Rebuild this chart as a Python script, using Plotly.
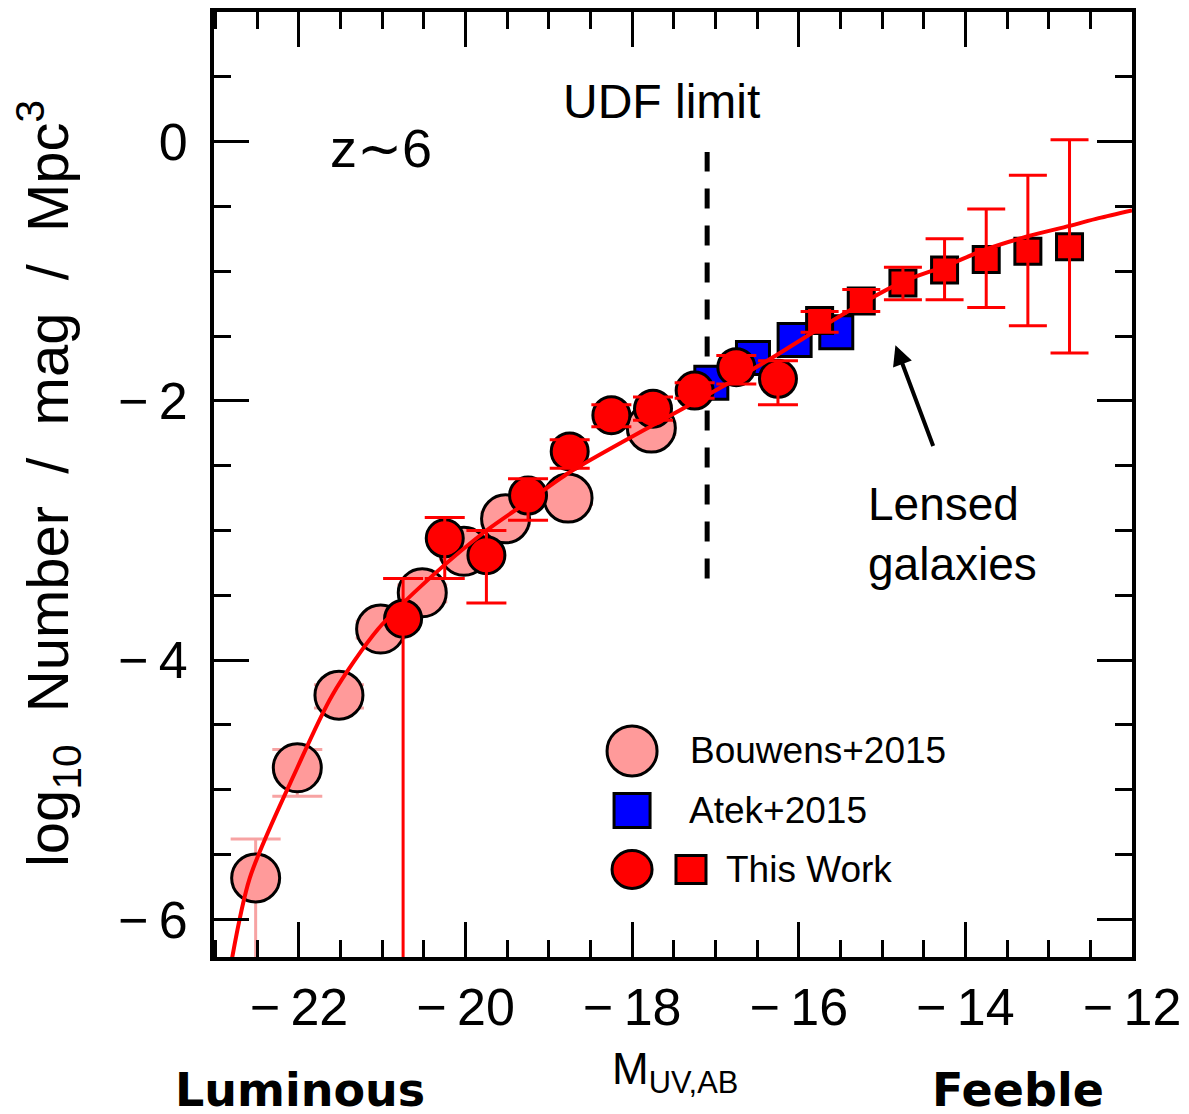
import plotly.graph_objects as go

# ---- UV luminosity function at z~6 -------------------------------------
# Bouwens+2015 blank-field points (M_UV, log10 phi, +err, -err)
bouwens_m = [-22.52, -22.02, -21.52, -21.02, -20.52, -20.02, -19.52, -18.77, -17.77]
bouwens_phi = [-5.68, -4.83, -4.27, -3.76, -3.48, -3.16, -2.91, -2.75, -2.21]
bouwens_up = [0.30, 0.14, 0.08, 0.06, 0.06, 0.05, 0.05, 0.05, 0.05]
bouwens_dn = [1.50, 0.22, 0.10, 0.07, 0.07, 0.06, 0.05, 0.05, 0.05]

# Atek+2015 lensed points
atek_m = [-17.05, -16.55, -16.05, -15.55]
atek_phi = [-1.86, -1.67, -1.53, -1.47]

# This work: blank-field circles
work_m = [-20.75, -20.25, -19.75, -19.25, -18.75, -18.25, -17.75, -17.25, -16.75, -16.25]
work_phi = [-3.68, -3.06, -3.19, -2.73, -2.39, -2.11, -2.06, -1.92, -1.74, -1.83]
work_up = [0.31, 0.16, 0.19, 0.13, 0.09, 0.08, 0.09, 0.06, 0.09, 0.14]
work_dn = [3.00, 0.31, 0.37, 0.19, 0.13, 0.09, 0.09, 0.06, 0.13, 0.20]

# This work: lensed squares
lens_m = [-15.75, -15.25, -14.75, -14.25, -13.75, -13.25, -12.75]
lens_phi = [-1.38, -1.23, -1.09, -0.99, -0.91, -0.845, -0.81]
lens_up = [0.07, 0.09, 0.12, 0.24, 0.39, 0.585, 0.825]
lens_dn = [0.09, 0.08, 0.13, 0.23, 0.37, 0.575, 0.82]

# Best-fit luminosity function, sampled along the curve
fit_m = [-22.85, -22.59, -22.02, -21.6, -21.05, -20.4, -19.75, -19.26, -18.75,
         -17.76, -17.0, -16.3, -15.75, -15.25, -14.75, -14.24, -13.75, -13.25,
         -12.75, -12.4, -12.0]
fit_phi = [-6.47, -5.68, -4.83, -4.27, -3.76, -3.35, -3.0, -2.78, -2.55,
           -2.19, -1.92, -1.66, -1.44, -1.25, -1.08, -0.96, -0.83, -0.73,
           -0.65, -0.59, -0.53]

# HUDF depth limit
udf_limit_m = -17.1
udf_line_phi = [-3.37, -0.08]

x_ticks = [-22, -20, -18, -16, -14, -12]
y_ticks = [-6, -4, -2, 0]

PINK = "#FF9A9A"
PINK_ERR = "#F7A3A3"
RED = "#FF0000"
BLUE = "#0000FF"
FONT = "Liberation Sans"


def minus_label(v):
    return "0" if v == 0 else "\u2212\u2009" + str(abs(v))


def error_trace(xs, ys, up, dn, col, w):
    return go.Scatter(
        x=xs, y=ys, mode="markers", showlegend=False,
        marker=dict(size=1, opacity=0),
        error_y=dict(type="data", symmetric=False, array=up, arrayminus=dn,
                     color=col, thickness=3, width=w),
    )


fig = go.Figure()

# Bouwens+2015: error bars sit beneath the symbols
fig.add_trace(error_trace(bouwens_m, bouwens_phi, bouwens_up, bouwens_dn, PINK_ERR, 25))
fig.add_trace(go.Scatter(
    x=bouwens_m, y=bouwens_phi, mode="markers", showlegend=False,
    marker=dict(symbol="circle", size=48, color=PINK, line=dict(color="black", width=3)),
))
fig.add_trace(go.Scatter(
    x=atek_m, y=atek_phi, mode="markers", showlegend=False,
    marker=dict(symbol="square", size=33, color=BLUE, line=dict(color="black", width=3)),
))
fig.add_trace(go.Scatter(
    x=work_m, y=work_phi, mode="markers", showlegend=False,
    marker=dict(symbol="circle", size=37, color=RED, line=dict(color="black", width=3)),
))
fig.add_trace(go.Scatter(
    x=lens_m, y=lens_phi, mode="markers", showlegend=False,
    marker=dict(symbol="square", size=26, color=RED, line=dict(color="black", width=3)),
))

# this work: error bars drawn above the symbols
fig.add_trace(error_trace(work_m, work_phi, work_up, work_dn, RED, 20))
fig.add_trace(error_trace(lens_m, lens_phi, lens_up, lens_dn, RED, 19))

# best-fit curve
fig.add_trace(go.Scatter(
    x=fit_m, y=fit_phi, mode="lines", showlegend=False,
    line=dict(color=RED, width=4, shape="spline", smoothing=0.8),
))

# UDF limit
fig.add_shape(type="line", xref="x", yref="y",
              x0=udf_limit_m, x1=udf_limit_m, y0=udf_line_phi[0], y1=udf_line_phi[1],
              line=dict(color="black", width=5, dash="20px,17px"), layer="below")

axis_common = dict(
    showline=True, linewidth=4, linecolor="black", mirror="ticks",
    ticks="inside", ticklen=35, tickwidth=3, tickcolor="black",
    showgrid=False, zeroline=False,
    tickfont=dict(family=FONT, size=52, color="black"),
)
fig.update_xaxes(range=[-23.02, -12.0], tickvals=x_ticks,
                 ticktext=[minus_label(v) for v in x_ticks],
                 minor=dict(dtick=0.5, tick0=0, ticks="inside", ticklen=17,
                            tickwidth=3, tickcolor="black"),
                 ticklabelstandoff=2, **axis_common)
fig.update_yaxes(range=[-6.29, 1.0], tickvals=y_ticks,
                 ticktext=[minus_label(v) for v in y_ticks],
                 minor=dict(dtick=0.5, tick0=0, ticks="inside", ticklen=17,
                            tickwidth=3, tickcolor="black"),
                 ticklabelstandoff=12, **axis_common)

annotations = [
    dict(text="UDF limit", x=-17.65, y=0.31, xref="x", yref="y", showarrow=False,
         font=dict(family=FONT, size=48, color="black")),
    dict(text="z\u223c6", x=-21.65, y=-0.05, xref="x", yref="y", xanchor="left", showarrow=False,
         font=dict(family=FONT, size=54, color="black")),
    dict(text="Lensed<br>galaxies", x=-15.19, y=-3.03, xref="x", yref="y",
         xanchor="left", align="left", showarrow=False,
         font=dict(family=FONT, size=46, color="black")),
    dict(text="", x=-14.84, y=-1.57, ax=-14.38, ay=-2.36, xref="x", yref="y",
         axref="x", ayref="y", showarrow=True, arrowhead=2, arrowsize=1,
         arrowwidth=4, arrowcolor="black"),
    dict(text="log<sub>10</sub>\u00a0\u00a0Number\u00a0\u00a0/\u00a0\u00a0mag\u00a0\u00a0/\u00a0\u00a0Mpc<sup>3</sup>",
         x=0, y=0.5005, xref="paper", yref="paper", xanchor="center", yanchor="middle",
         xshift=-166, textangle=-90,
         showarrow=False, font=dict(family=FONT, size=58, color="black")),
    dict(text="M<sub>UV,AB</sub>", x=0.502, y=0, xref="paper", yref="paper",
         xanchor="center", yanchor="middle",
         yshift=-115, showarrow=False, font=dict(family=FONT, size=44, color="black")),
    dict(text="<b>Luminous</b>", x=0.0935, y=0, xref="paper", yref="paper",
         xanchor="center", yanchor="middle",
         yshift=-133, showarrow=False, font=dict(family="DejaVu Sans", size=46, color="black")),
    dict(text="<b>Feeble</b>", x=0.876, y=0, xref="paper", yref="paper",
         xanchor="center", yanchor="middle",
         yshift=-133, showarrow=False, font=dict(family="DejaVu Sans", size=46, color="black")),
    dict(text="Bouwens+2015", x=0.5163, y=0.2181, xref="paper", yref="paper",
         xanchor="left", yanchor="middle", showarrow=False,
         font=dict(family=FONT, size=37, color="black")),
    dict(text="Atek+2015", x=0.5152, y=0.1549, xref="paper", yref="paper",
         xanchor="left", yanchor="middle", showarrow=False,
         font=dict(family=FONT, size=37, color="black")),
    dict(text="This\u00a0Work", x=0.5554, y=0.0927, xref="paper", yref="paper",
         xanchor="left", yanchor="middle", showarrow=False,
         font=dict(family=FONT, size=37, color="black")),
]

# legend symbols
legend_shapes = [
    dict(type="circle", xref="paper", yref="paper", xsizemode="pixel", ysizemode="pixel",
         xanchor=0.4554, yanchor=0.2181, x0=-25, x1=25, y0=-25, y1=25,
         fillcolor=PINK, line=dict(color="black", width=3)),
    dict(type="rect", xref="paper", yref="paper", xsizemode="pixel", ysizemode="pixel",
         xanchor=0.4554, yanchor=0.1549, x0=-18, x1=18, y0=-17, y1=17,
         fillcolor=BLUE, line=dict(color="black", width=3)),
    dict(type="circle", xref="paper", yref="paper", xsizemode="pixel", ysizemode="pixel",
         xanchor=0.4554, yanchor=0.0927, x0=-20, x1=20, y0=-19, y1=19,
         fillcolor=RED, line=dict(color="black", width=3)),
    dict(type="rect", xref="paper", yref="paper", xsizemode="pixel", ysizemode="pixel",
         xanchor=0.5196, yanchor=0.0927, x0=-15, x1=15, y0=-14, y1=14,
         fillcolor=RED, line=dict(color="black", width=3)),
]
for s in legend_shapes:
    fig.add_shape(**s)

fig.update_layout(
    width=1189, height=1114,
    margin=dict(l=214, r=55, t=8, b=157),
    plot_bgcolor="white", paper_bgcolor="white",
    annotations=annotations,
    font=dict(family=FONT, color="black"),
)

fig.write_html("out.html")
